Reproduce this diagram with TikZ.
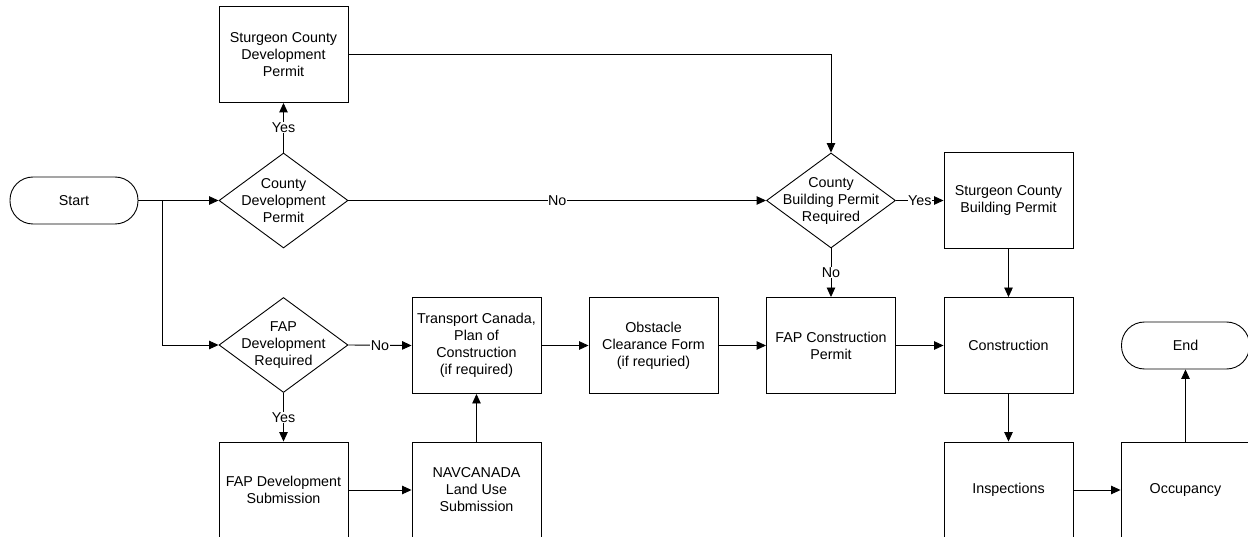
\documentclass[tikz,border=0pt]{standalone}
\usepackage{fontspec}
\setmainfont{Liberation Sans}
\usetikzlibrary{shapes.geometric,arrows.meta}
\begin{document}
\begin{tikzpicture}[x=1pt,y=-1pt,
  every node/.style={font=\fontsize{14.3}{17}\selectfont, align=center},
  procbox/.style={draw, line width=0.9pt, rectangle, minimum width=129pt, minimum height=96pt, inner sep=0pt},
  termbox/.style={draw, line width=0.9pt, rectangle, rounded corners=23pt, minimum width=128pt, minimum height=47pt, inner sep=0pt},
  decbox/.style={draw, line width=0.9pt, diamond, minimum width=129pt, minimum height=95pt, inner sep=0pt},
  flow/.style={line width=0.9pt, -{Triangle[length=9.5pt,width=8.5pt]}},
  plain/.style={line width=0.9pt},
  lbl/.style={fill=white, inner sep=0.5pt, pos=0.5}
]
\useasboundingbox (0,0) rectangle (1248,537);

\node[termbox] (start) at (74,200.5) {Start};
\node[procbox] (scdp) at (283.5,54.5) {Sturgeon County\\Development\\Permit};
\node[decbox, label={[align=center]center:County\\Development\\Permit}] (cdp) at (283.5,200.5) {};
\node[decbox, label={[align=center]center:FAP\\Development\\Required}] (fapdr) at (283.5,345) {};
\node[procbox] (fapds) at (283.5,490) {FAP Development\\Submission};
\node[procbox] (tc) at (476.5,345.5) {Transport Canada,\\Plan of\\Construction\\(if required)};
\node[procbox] (nav) at (476.5,490) {NAVCANADA\\Land Use\\Submission};
\node[procbox] (obs) at (653.5,345.5) {Obstacle\\Clearance Form\\(if requried)};
\node[procbox] (fapcp) at (831,345.5) {FAP Construction\\Permit};
\node[decbox, label={[align=center]center:County\\Building Permit\\Required}] (cbpr) at (831,200.5) {};
\node[procbox] (scbp) at (1008.5,200.5) {Sturgeon County\\Building Permit};
\node[procbox] (cons) at (1008.5,345.5) {Construction};
\node[procbox] (insp) at (1008.5,490) {Inspections};
\node[procbox] (occ) at (1185.5,490) {Occupancy};
\node[termbox] (end) at (1185.5,345.5) {End};

\coordinate (br) at (162,200.5);

\draw[plain] (start.east) -- (br);
\draw[flow] (br) -- (cdp.west);
\draw[flow] (br) |- (fapdr.west);
\draw[flow] (cdp.north) -- node[lbl] {Yes} (scdp.south);
\draw[flow] (cdp.east) -- node[lbl] {No} (cbpr.west);
\draw[flow] (scdp.east) -| (cbpr.north);
\draw[flow] (cbpr.east) -- node[lbl] {Yes} (scbp.west);
\draw[flow] (cbpr.south) -- node[lbl] {No} (fapcp.north);
\draw[flow] (scbp.south) -- (cons.north);
\draw[flow] (fapdr.east) -- node[lbl] {No} (tc.west);
\draw[flow] (fapdr.south) -- node[lbl] {Yes} (fapds.north);
\draw[flow] (fapds.east) -- (nav.west);
\draw[flow] (nav.north) -- (tc.south);
\draw[flow] (tc.east) -- (obs.west);
\draw[flow] (obs.east) -- (fapcp.west);
\draw[flow] (fapcp.east) -- (cons.west);
\draw[flow] (cons.south) -- (insp.north);
\draw[flow] (insp.east) -- (occ.west);
\draw[flow] (occ.north) -- (end.south);
\end{tikzpicture}
\end{document}
